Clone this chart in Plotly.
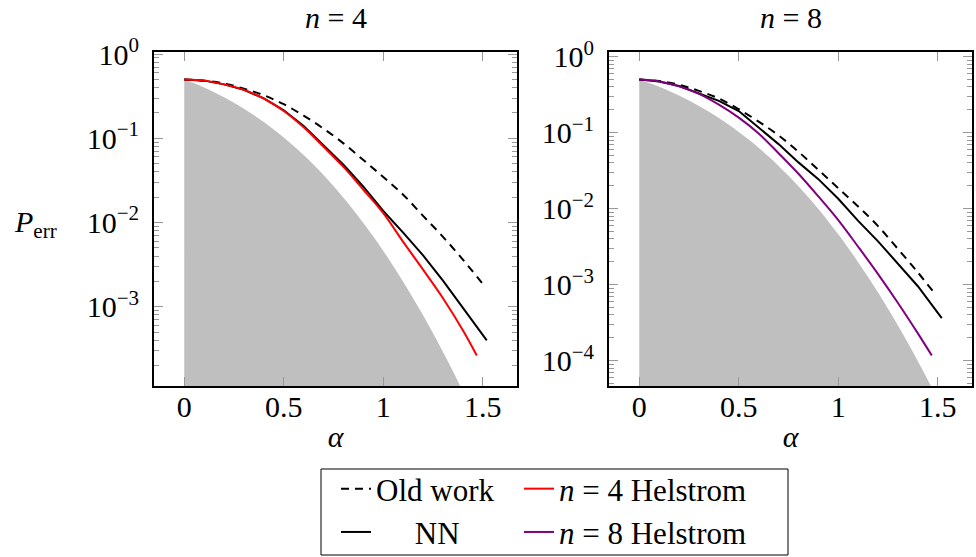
import plotly.graph_objects as go

# ---------------- data ----------------
alpha_grid = [0.0, 0.1, 0.2, 0.3, 0.4, 0.5, 0.6, 0.7, 0.8, 0.9, 1.0, 1.1, 1.2, 1.3, 1.4]

# shaded lower bound (same in both panels)
bound_alpha = [0.0, 0.05, 0.1, 0.15, 0.2, 0.25, 0.3, 0.35, 0.4, 0.45, 0.5, 0.55, 0.6, 0.65,
               0.7, 0.75, 0.8, 0.85, 0.9, 0.95, 1.0, 1.05, 1.1, 1.15, 1.2, 1.25, 1.3, 1.35,
               1.4, 1.45, 1.5]
bound_perr = [0.5, 0.450, 0.401, 0.3533, 0.3077, 0.2648, 0.2251, 0.1888, 0.1562, 0.1275,
              0.1025, 0.0811, 0.0632, 0.0485, 0.03656, 0.0271, 0.01972, 0.0141, 0.00989,
              0.00681, 0.0046, 0.00305, 0.001981, 0.001262, 0.000789, 0.000483, 0.00029,
              0.000171, 0.0000985, 0.0000558, 0.0000309]

# n = 4 panel
old4_alpha = alpha_grid + [1.5]
old4_perr = [0.5, 0.484, 0.447, 0.389, 0.324, 0.254, 0.186, 0.130, 0.0871, 0.0552, 0.0347,
             0.0214, 0.0120, 0.00676, 0.00363, 0.00186]
nn4_alpha = alpha_grid + [1.52]
nn4_perr = [0.5, 0.484, 0.437, 0.376, 0.2975, 0.2150, 0.1395, 0.0830, 0.0485, 0.0266, 0.0137,
            0.00759, 0.00407, 0.00204, 0.000977, 0.000398]
hel4_alpha = alpha_grid + [1.47]
hel4_perr = [0.5, 0.484, 0.437, 0.376, 0.295, 0.211, 0.135, 0.0794, 0.0457, 0.0245, 0.0129,
             0.00589, 0.00275, 0.00126, 0.000525, 0.000263]

# n = 8 panel
old8_alpha = alpha_grid + [1.48]
old8_perr = [0.5, 0.479, 0.427, 0.355, 0.282, 0.204, 0.140, 0.0923, 0.0562, 0.0324, 0.0186,
             0.0107, 0.00589, 0.00295, 0.00145, 0.000794]
nn8_alpha = alpha_grid + [1.52]
nn8_perr = [0.5, 0.473, 0.412, 0.331, 0.263, 0.193, 0.117, 0.0708, 0.0407, 0.0245, 0.0135,
            0.00692, 0.00372, 0.00191, 0.000955, 0.000363]
hel8_alpha = alpha_grid + [1.47]
hel8_perr = [0.5, 0.473, 0.407, 0.324, 0.234, 0.158, 0.0977, 0.0537, 0.0288, 0.0145, 0.00708,
             0.00316, 0.00138, 0.000575, 0.000229, 0.000117]

x_ticks = [0, 0.5, 1, 1.5]
x_ticktext = ["0", "0.5", "1", "1.5"]
y_ticks_left = [1, 0.1, 0.01, 0.001]
y_ticktext_left = ["10<sup>0</sup>", "10<sup>\u22121</sup>", "10<sup>\u22122</sup>", "10<sup>\u22123</sup>"]
y_ticks_right = [1, 0.1, 0.01, 0.001, 0.0001]
y_ticktext_right = ["10<sup>0</sup>", "10<sup>\u22121</sup>", "10<sup>\u22122</sup>",
                    "10<sup>\u22123</sup>", "10<sup>\u22124</sup>"]

# ---------------- style ----------------
FONT = "Liberation Serif"
FS = 30
LFS = 31
GRAY = "#bfbfbf"
RED = "#ff0000"
PURPLE = "#800080"
W, H = 976, 557

fig = go.Figure()

def add_panel(xa, ya, old_a, old_p, nn_a, nn_p, hel_a, hel_p, hel_color, hel_name, first):
    fig.add_trace(go.Scatter(x=bound_alpha, y=bound_perr, mode="lines", fill="tozeroy",
                             fillcolor=GRAY, line=dict(color=GRAY, width=0, shape="spline"),
                             showlegend=False, xaxis=xa, yaxis=ya, hoverinfo="skip"))
    fig.add_trace(go.Scatter(x=old_a, y=old_p, mode="lines", name="Old work",
                             line=dict(color="black", width=2, dash="8px,6px", shape="spline"),
                             showlegend=first, legend="legend", xaxis=xa, yaxis=ya))
    fig.add_trace(go.Scatter(x=nn_a, y=nn_p, mode="lines",
                             name="\u00a0\u00a0\u00a0\u00a0\u00a0NN",
                             line=dict(color="black", width=2),
                             showlegend=first, legend="legend", xaxis=xa, yaxis=ya))
    fig.add_trace(go.Scatter(x=hel_a, y=hel_p, mode="lines", name=hel_name,
                             line=dict(color=hel_color, width=2, shape="spline"),
                             showlegend=True, legend="legend2", xaxis=xa, yaxis=ya))

add_panel("x", "y", old4_alpha, old4_perr, nn4_alpha, nn4_perr, hel4_alpha, hel4_perr,
          RED, "<i>n</i> = 4 Helstrom", True)
add_panel("x2", "y2", old8_alpha, old8_perr, nn8_alpha, nn8_perr, hel8_alpha, hel8_perr,
          PURPLE, "<i>n</i> = 8 Helstrom", False)

def px_x(p):
    return p / W

def px_y(p):
    return 1 - p / H

xcommon = dict(range=[-0.152, 1.672], tickmode="array", tickvals=x_ticks, ticktext=x_ticktext,
               ticks="inside", ticklen=9, tickcolor="#999999", tickwidth=1, automargin=False,
               showline=True, linecolor="black", linewidth=2, mirror="allticks",
               showgrid=False, zeroline=False, tickfont=dict(family=FONT, size=FS, color="black"),
               ticklabelstandoff=-7,
               title=dict(text="<i>\u03b1</i>", font=dict(family=FONT, size=FS, color="black"),
                          standoff=4))
ycommon = dict(type="log", tickmode="array", ticks="inside", ticklen=9, tickcolor="#999999",
               tickwidth=1, showline=True, linecolor="black", linewidth=2, mirror="allticks",
               showgrid=False, zeroline=False, automargin=False,
               tickfont=dict(family=FONT, size=FS, color="black"), ticklabelstandoff=7,
               minor=dict(ticks="inside", ticklen=5, tickcolor="#999999", tickwidth=1,
                          dtick="D1", showgrid=False))

fig.update_layout(
    width=W, height=H, margin=dict(l=0, r=0, t=0, b=0, autoexpand=False),
    paper_bgcolor="white", plot_bgcolor="white",
    font=dict(family=FONT, size=FS, color="black"),
    xaxis=dict(domain=[px_x(154), px_x(517)], anchor="y", **xcommon),
    xaxis2=dict(domain=[px_x(609), px_x(972)], anchor="y2", **xcommon),
    yaxis=dict(domain=[px_y(386), px_y(51.7)], anchor="x", range=[-3.942, 0.0285],
               tickvals=y_ticks_left, ticktext=y_ticktext_left, **ycommon),
    yaxis2=dict(domain=[px_y(386), px_y(51.7)], anchor="x2", range=[-4.333, 0.066],
                tickvals=y_ticks_right, ticktext=y_ticktext_right, **ycommon),
    legend=dict(x=px_x(336), y=px_y(462), xanchor="left", yanchor="top",
                xref="container", yref="container",
                bgcolor="rgba(0,0,0,0)", borderwidth=0, orientation="v",
                font=dict(family=FONT, size=LFS, color="black")),
    legend2=dict(x=px_x(519), y=px_y(462), xanchor="left", yanchor="top",
                 xref="container", yref="container",
                 bgcolor="rgba(0,0,0,0)", borderwidth=0, orientation="v",
                 font=dict(family=FONT, size=LFS, color="black")),
    shapes=[dict(type="rect", xref="paper", yref="paper", x0=px_x(321), x1=px_x(788),
                 y0=px_y(555), y1=px_y(469), line=dict(color="black", width=1))],
    annotations=[
        dict(text="<i>n</i> = 4", x=px_x(335.5), y=px_y(18), xref="paper", yref="paper",
             xanchor="center", yanchor="middle",
             showarrow=False, font=dict(family=FONT, size=FS, color="black")),
        dict(text="<i>n</i> = 8", x=px_x(790.5), y=px_y(18), xref="paper", yref="paper",
             xanchor="center", yanchor="middle",
             showarrow=False, font=dict(family=FONT, size=FS, color="black")),
        dict(text="<i>P</i><sub>err</sub>", x=px_x(35), y=px_y(224), xref="paper",
             yref="paper", xanchor="center", yanchor="middle",
             showarrow=False, font=dict(family=FONT, size=FS, color="black")),
    ],
)

fig.write_html("out.html", config={"displayModeBar": False},
               post_script="document.body.style.margin='0px';")
